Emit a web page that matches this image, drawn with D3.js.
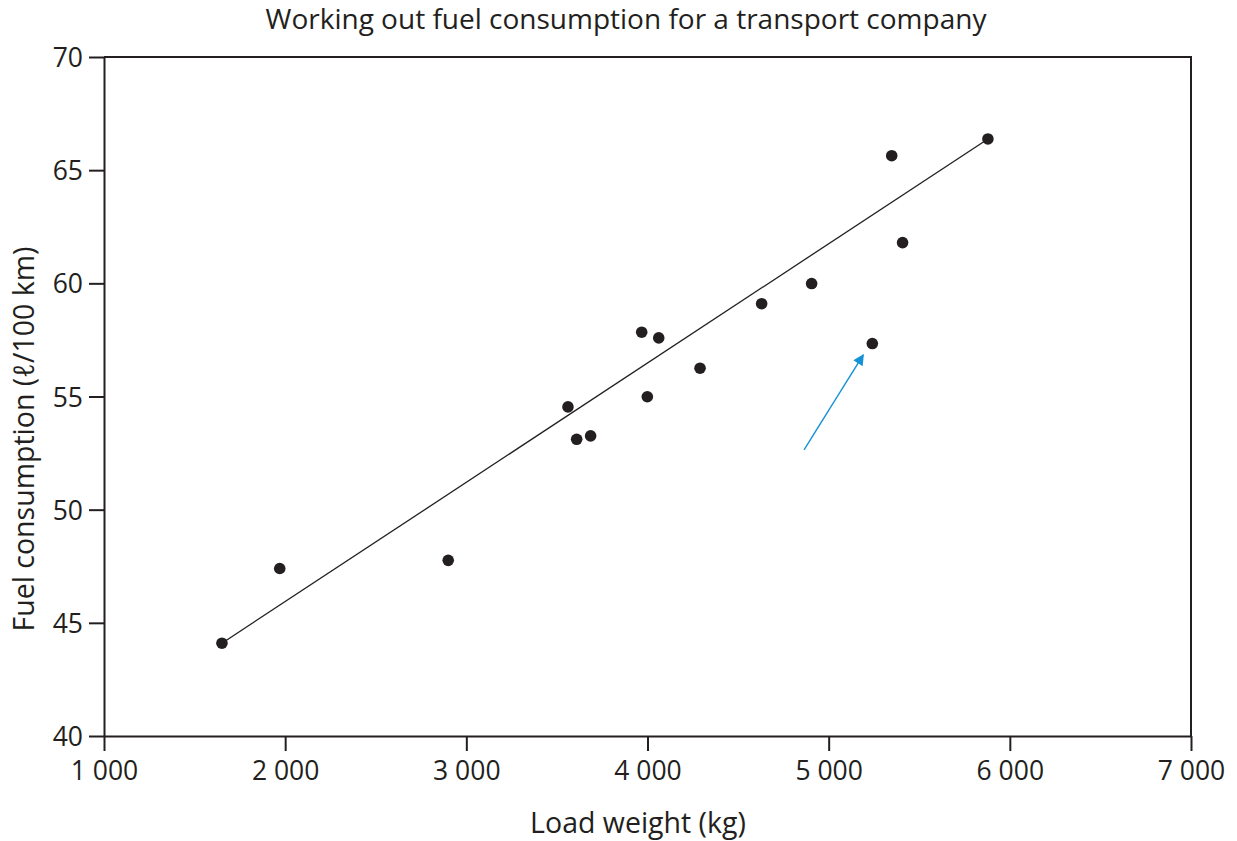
<!DOCTYPE html>
<html>
<head>
<meta charset="utf-8">
<script src="https://cdn.jsdelivr.net/npm/d3@7"></script>
<style>
  body { margin: 0; background: #fff; }
  text { font-family: "Open Sans", "Noto Sans", sans-serif; fill: #231f20; }
</style>
</head>
<body>
<svg id="chart"></svg>
<script>
'use strict';

// load weight (kg) of each trip
const loadWeight = [1651, 1970, 2900, 3561, 3609, 3686, 3968, 3999, 4062, 4290, 4630, 4906, 5241, 5348, 5408, 5879];
// fuel consumption (l/100 km) of each trip
const fuelUse = [44.1, 47.4, 47.76, 54.54, 53.11, 53.26, 57.84, 54.99, 57.59, 56.25, 59.1, 59.99, 57.34, 65.64, 61.8, 66.38];

// line of best fit, two end points
const fitX = [1651, 5879];
const fitY = [44.1, 66.38];

// blue arrow pointing at the odd point
const arrowX = [4864, 5191];
const arrowY = [52.64, 56.84];

const xTicks = [1000, 2000, 3000, 4000, 5000, 6000, 7000];
const yTicks = [40, 45, 50, 55, 60, 65, 70];

const width = 1237;
const height = 841;
const margin = { top: 57, right: 46, bottom: 105, left: 104 };
const innerW = width - margin.left - margin.right;
const innerH = height - margin.top - margin.bottom;

const INK = '#231f20';
const BLUE = '#1592d6';

const svg = d3.select('#chart')
  .attr('width', width)
  .attr('height', height);

const chart = svg.append('g')
  .attr('transform', 'translate(' + margin.left + ',' + margin.top + ')');

const xScale = d3.scaleLinear().domain([1000, 7000]).range([0, innerW]);
const yScale = d3.scaleLinear().domain([40, 70]).range([innerH, 0]);

const fmt = d3.formatLocale({ decimal: '.', thousands: ' ', grouping: [3], currency: ['', ''] }).format(',');

const xAxis = d3.axisBottom(xScale)
  .tickValues(xTicks)
  .tickSize(15)
  .tickSizeOuter(0)
  .tickPadding(4)
  .tickFormat(fmt);

const yAxis = d3.axisLeft(yScale)
  .tickValues(yTicks)
  .tickSize(15)
  .tickSizeOuter(0)
  .tickPadding(6);

chart.append('g')
  .attr('class', 'axis axis--x')
  .attr('transform', 'translate(0,' + innerH + ')')
  .call(xAxis);

chart.append('g')
  .attr('class', 'axis axis--y')
  .call(yAxis);

chart.selectAll('.axis path, .axis line')
  .attr('stroke', INK)
  .attr('stroke-width', 2);

chart.selectAll('.axis text')
  .attr('fill', INK)
  .style('font-size', '26.5px');

chart.select('.axis--x').selectAll('text').attr('dy', '0.95em');
chart.select('.axis--y').selectAll('text').attr('dy', '0.36em');

// top and right border of the frame
chart.append('path')
  .attr('d', 'M0,0H' + innerW + 'V' + innerH)
  .attr('fill', 'none')
  .attr('stroke', INK)
  .attr('stroke-width', 2);

// line of best fit
chart.append('line')
  .attr('x1', xScale(fitX[0]))
  .attr('y1', yScale(fitY[0]))
  .attr('x2', xScale(fitX[1]))
  .attr('y2', yScale(fitY[1]))
  .attr('stroke', INK)
  .attr('stroke-width', 1.3);

// points
chart.selectAll('.dot')
  .data(loadWeight.map((w, i) => ({ w: w, f: fuelUse[i] })))
  .enter()
  .append('circle')
  .attr('class', 'dot')
  .attr('cx', d => xScale(d.w))
  .attr('cy', d => yScale(d.f))
  .attr('r', 5.8)
  .attr('fill', INK);

// arrow
svg.append('defs').append('marker')
  .attr('id', 'head')
  .attr('viewBox', '0 0 10 10')
  .attr('refX', 9)
  .attr('refY', 5)
  .attr('markerUnits', 'userSpaceOnUse')
  .attr('markerWidth', 13)
  .attr('markerHeight', 11)
  .attr('orient', 'auto')
  .append('path')
  .attr('d', 'M0,0L10,5L0,10Z')
  .attr('fill', BLUE);

chart.append('line')
  .attr('x1', xScale(arrowX[0]))
  .attr('y1', yScale(arrowY[0]))
  .attr('x2', xScale(arrowX[1]))
  .attr('y2', yScale(arrowY[1]))
  .attr('stroke', BLUE)
  .attr('stroke-width', 1.4)
  .attr('marker-end', 'url(#head)');

// titles
svg.append('text')
  .attr('x', 626)
  .attr('y', 29)
  .style('text-anchor', 'middle')
  .style('font-size', '28px')
  .text('Working out fuel consumption for a transport company');

svg.append('text')
  .attr('x', 638)
  .attr('y', 833)
  .style('text-anchor', 'middle')
  .style('font-size', '28.5px')
  .text('Load weight (kg)');

svg.append('text')
  .attr('transform', 'translate(34,439) rotate(-90)')
  .style('text-anchor', 'middle')
  .style('font-size', '28.5px')
  .text('Fuel consumption (ℓ/100 km)');
</script>
</body>
</html>
